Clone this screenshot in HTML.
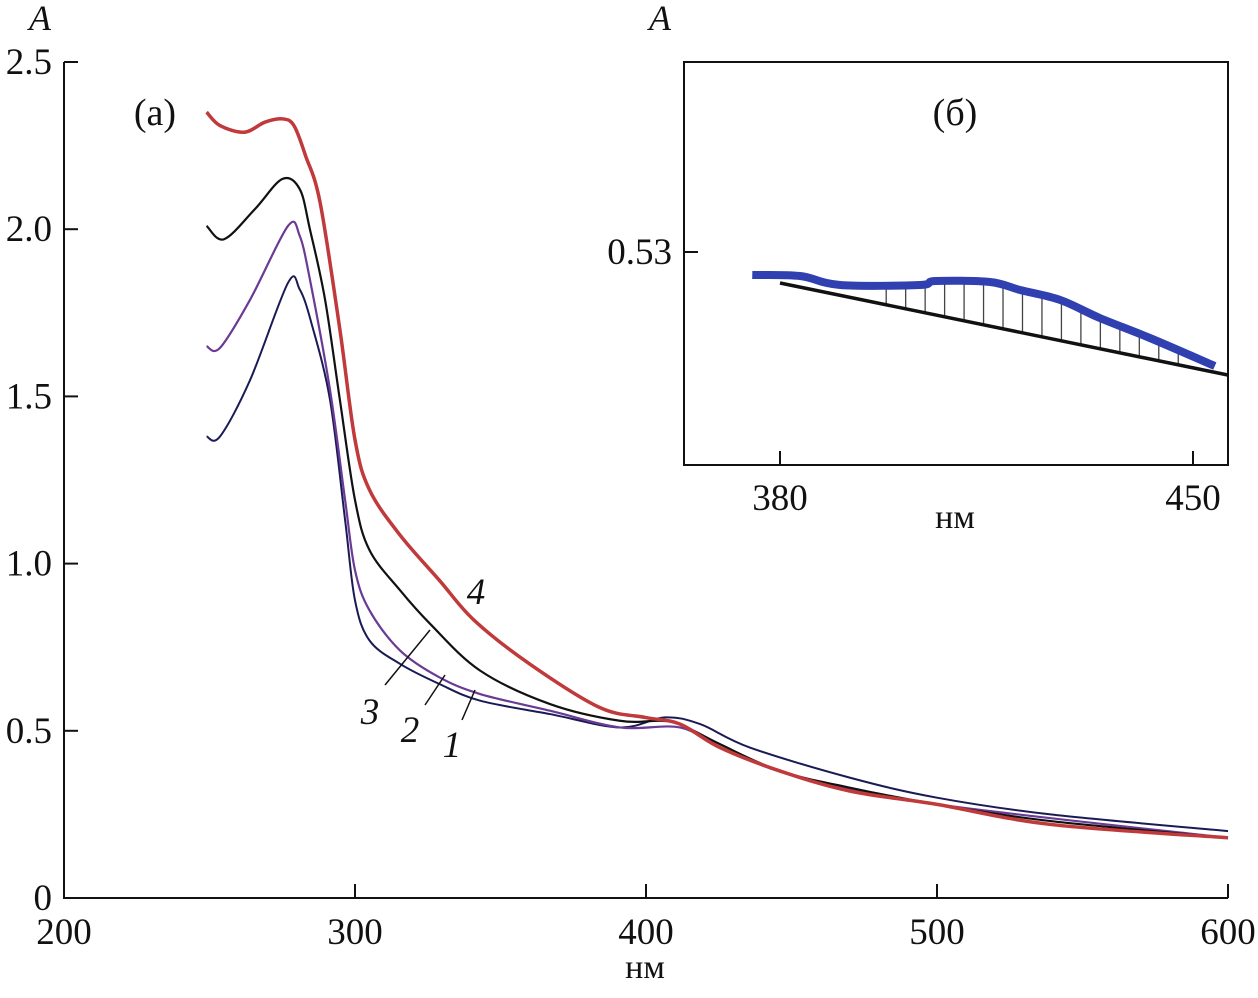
<!DOCTYPE html>
<html><head><meta charset="utf-8"><style>
body{margin:0;background:#fff}
svg text{font-family:"Liberation Serif",serif;fill:#111}
</style></head><body>
<svg id="c" width="1258" height="993" viewBox="0 0 1258 993"></svg>
<script>
const nm4=[249,253.6,262,269,275,279,283,288,294.8,300,305,315.5,329,341,360,384,399.7,411.7,425.4,446,470,500,539,600];
const a4=[2.35,2.31,2.29,2.32,2.33,2.31,2.22,2.08,1.70,1.37,1.22,1.085,0.95,0.83,0.70,0.57,0.54,0.52,0.45,0.38,0.32,0.28,0.22,0.18];
const nm3=[249,255,265.6,275,281,284.5,289.7,294.8,300,305,315.5,325.8,343,367,391,404.8,411.7,425.4,446,470,500,539,600];
const a3=[2.01,1.97,2.06,2.15,2.12,2.0,1.79,1.49,1.19,1.04,0.92,0.82,0.68,0.58,0.53,0.53,0.52,0.46,0.38,0.33,0.28,0.23,0.18];
const nm2=[249,253.6,264,277,281,284.5,291.4,296.6,300,305,315.5,329,343,367,391,411.7,425.4,453,500,600];
const a2=[1.65,1.645,1.79,2.01,1.98,1.85,1.52,1.19,0.98,0.86,0.74,0.66,0.61,0.56,0.51,0.51,0.45,0.36,0.28,0.18];
const nm1=[249,253.6,264,277,281,285,291.4,296.6,300,305,315.5,329,343,367,391,406.5,418.6,435.7,470,500,539,600];
const a1=[1.38,1.38,1.55,1.84,1.82,1.72,1.49,1.13,0.89,0.77,0.70,0.64,0.59,0.55,0.51,0.54,0.52,0.45,0.36,0.30,0.25,0.20];
const xTicks=[200,300,400,500,600];
const yTicks=[0,0.5,1.0,1.5,2.0,2.5];
const yTickLabels=["0","0.5","1.0","1.5","2.0","2.5"];
const inNm=[375.3,383.4,390.2,403.7,406.3,415.6,420.7,427.5,434.2,442.7,453.7];
const inA=[0.5277,0.5276,0.5267,0.5267,0.5271,0.527,0.5262,0.5252,0.5234,0.5214,0.5186];
const baseNm=[380,455.9];
const baseA=[0.5269,0.5177];
const inXTicks=[380,450];
const inYTicks=[0.53];

const svg=document.getElementById('c');
const NS='http://www.w3.org/2000/svg';
function mk(t,at,par){const e=document.createElementNS(NS,t);for(const k in at)e.setAttribute(k,at[k]);(par||svg).appendChild(e);return e;}
const X=v=>64+(v-200)*2.91, Y=v=>898-v*334.4;
const IX=v=>780+(v-380)*5.9, IY=v=>252+(0.53-v)*10000;
function smooth(pts){let d='M'+pts[0][0]+','+pts[0][1];for(let i=0;i<pts.length-1;i++){const p0=pts[Math.max(0,i-1)],p1=pts[i],p2=pts[i+1],p3=pts[Math.min(pts.length-1,i+2)];d+=` C${p1[0]+(p2[0]-p0[0])/6},${p1[1]+(p2[1]-p0[1])/6} ${p2[0]-(p3[0]-p1[0])/6},${p2[1]-(p3[1]-p1[1])/6} ${p2[0]},${p2[1]}`;}return d;}
function interp(xs,ys,x){for(let i=0;i<xs.length-1;i++){if(x>=xs[i]&&x<=xs[i+1])return ys[i]+(ys[i+1]-ys[i])*(x-xs[i])/(xs[i+1]-xs[i]);}return ys[ys.length-1];}

let e=mk('path',{d:'M64,62 V898 H1228',fill:'none',stroke:'#111','stroke-width':2});


xTicks.forEach(t=>{let l=mk('line',{x1:X(t),x2:X(t),y1:898,y2:884,stroke:'#111','stroke-width':2});


let tx=mk('text',{x:X(t),y:944,'font-size':37,'text-anchor':'middle'});tx.textContent=t;

});
yTicks.forEach((t,i)=>{let l=mk('line',{x1:64,x2:78,y1:Y(t),y2:Y(t),stroke:'#111','stroke-width':2});


let tx=mk('text',{x:52,y:Y(t)+12,'font-size':37,'text-anchor':'end'});tx.textContent=yTickLabels[i];

});

[[nm1,a1,'#1a1a55',2,'curve-1'],[nm2,a2,'#6a3a95',2.2,'curve-2'],[nm3,a3,'#111111',2.2,'curve-3'],[nm4,a4,'#c0393b',3.5,'curve-4']].forEach(s=>{
 const pts=s[0].map((v,i)=>[X(v),Y(s[1][i])]);
 let p=mk('path',{d:smooth(pts),fill:'none',stroke:s[2],'stroke-width':s[3],'stroke-linejoin':'round'});
 
 });

[['4',476,604,null],['3',370,724,[385,685,430,630]],['2',410,742,[425,705,445,675]],['1',452,757,[462,720,475,690]]].forEach(o=>{
 let tx=mk('text',{x:o[1],y:o[2],'font-size':37,'font-style':'italic','text-anchor':'middle'});tx.textContent=o[0];
 
 
 if(o[3]){let l=mk('line',{x1:o[3][0],y1:o[3][1],x2:o[3][2],y2:o[3][3],stroke:'#111','stroke-width':1.5});
 
 }});

let ib=mk('rect',{x:684,y:62,width:544,height:403,fill:'#fff',stroke:'#111','stroke-width':2});



[['A',40,30,'y-axis-title',true,36],['нм',645,978,'x-axis-title',false,34],['(a)',155,125,'panel-a-label',false,38],['A',660,30,'inset-y-axis-title',true,36],['(б)',955,125,'panel-b-label',false,38],['нм',955,528,'inset-x-axis-title',false,34]].forEach(o=>{
 let tx=mk('text',{x:o[1],y:o[2],'font-size':o[5],'text-anchor':'middle','font-style':o[4]?'italic':'normal'});tx.textContent=o[0];
 
 });

inXTicks.forEach(t=>{let l=mk('line',{x1:IX(t),x2:IX(t),y1:465,y2:451,stroke:'#111','stroke-width':2});


let tx=mk('text',{x:IX(t),y:510,'font-size':37,'text-anchor':'middle'});tx.textContent=t;

});
inYTicks.forEach(t=>{let l=mk('line',{x1:684,x2:698,y1:IY(t),y2:IY(t),stroke:'#111','stroke-width':2});


let tx=mk('text',{x:672,y:IY(t)+12,'font-size':37,'text-anchor':'end'});tx.textContent=t.toFixed(2);

});
for(let n=398;n<=448;n+=3.3){
 let l=mk('line',{x1:IX(n),x2:IX(n),y1:IY(interp(inNm,inA,n)),y2:IY(interp(baseNm,baseA,n)),stroke:'#444','stroke-width':1.3});
 
 }
let bl=mk('line',{x1:IX(baseNm[0]),y1:IY(baseA[0]),x2:IX(baseNm[1]),y2:IY(baseA[1]),stroke:'#111','stroke-width':3.5});


let ic=mk('path',{d:smooth(inNm.map((v,i)=>[IX(v),IY(inA[i])])),fill:'none',stroke:'#3040b0','stroke-width':8,'stroke-linejoin':'round'});


</script>
</body></html>
